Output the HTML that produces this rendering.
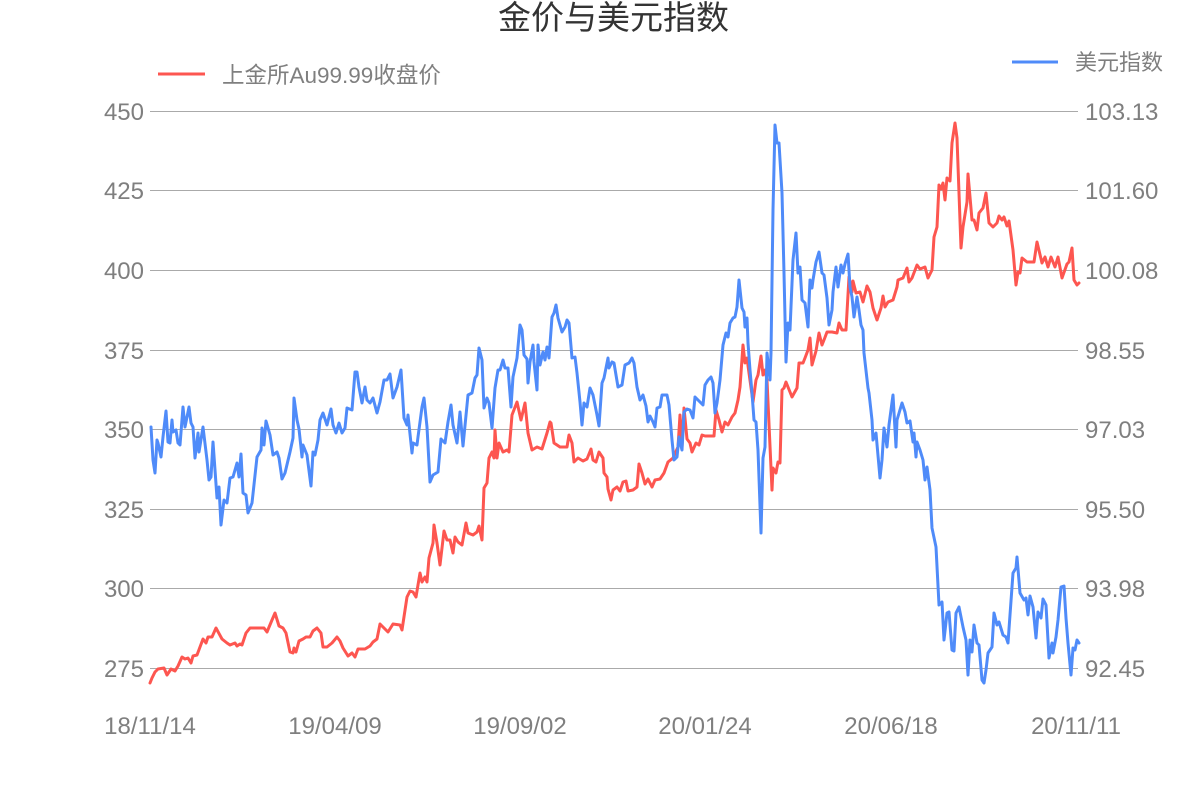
<!DOCTYPE html>
<html>
<head>
<meta charset="utf-8">
<style>
html,body{margin:0;padding:0;background:#fff;}
svg{display:block;}
text{font-family:"Liberation Sans","Noto Sans CJK SC",sans-serif;}
</style>
</head>
<body>
<svg width="1200" height="800" viewBox="0 0 1200 800" xmlns="http://www.w3.org/2000/svg">
<rect width="1200" height="800" fill="#fff"/>
<text x="498" y="29" font-size="33" fill="#333">金价与美元指数</text>

<line x1="158" y1="74" x2="205" y2="74" stroke="#fd5650" stroke-width="3"/>
<text x="222" y="83" font-size="22.5" fill="#7f7f7f">上金所Au99.99收盘价</text>
<line x1="1012" y1="62" x2="1058" y2="62" stroke="#4f8bf9" stroke-width="3"/>
<text x="1075" y="70" font-size="22" fill="#7f7f7f">美元指数</text>

<g stroke="#aaaaaa" stroke-width="1">
<line x1="150" y1="111.5" x2="1078" y2="111.5"/>
<line x1="150" y1="190.5" x2="1078" y2="190.5"/>
<line x1="150" y1="270.5" x2="1078" y2="270.5"/>
<line x1="150" y1="350.5" x2="1078" y2="350.5"/>
<line x1="150" y1="429.5" x2="1078" y2="429.5"/>
<line x1="150" y1="509.5" x2="1078" y2="509.5"/>
<line x1="150" y1="588.5" x2="1078" y2="588.5"/>
<line x1="150" y1="668.5" x2="1078" y2="668.5"/>
</g>

<g font-size="24" fill="#7f7f7f" text-anchor="end">
<text x="144" y="120">450</text>
<text x="144" y="199">425</text>
<text x="144" y="279">400</text>
<text x="144" y="359">375</text>
<text x="144" y="438">350</text>
<text x="144" y="518">325</text>
<text x="144" y="597">300</text>
<text x="144" y="677">275</text>
</g>
<g font-size="24" fill="#7f7f7f" text-anchor="start">
<text x="1085" y="120">103.13</text>
<text x="1085" y="199">101.60</text>
<text x="1085" y="279">100.08</text>
<text x="1085" y="359">98.55</text>
<text x="1085" y="438">97.03</text>
<text x="1085" y="518">95.50</text>
<text x="1085" y="597">93.98</text>
<text x="1085" y="677">92.45</text>
</g>
<g font-size="24" fill="#7f7f7f" text-anchor="middle">
<text x="150" y="734">18/11/14</text>
<text x="335" y="734">19/04/09</text>
<text x="520" y="734">19/09/02</text>
<text x="705" y="734">20/01/24</text>
<text x="891" y="734">20/06/18</text>
<text x="1076" y="734">20/11/11</text>
</g>

<polyline fill="none" stroke="#fd5650" stroke-width="3" stroke-linejoin="round" stroke-linecap="round" points="150,683 152,678 155,672 158,669 164,668 167,675 171,669 175,671 178,666 182,657 185,659 188,658 191,663 193,656 197,655 200,647 203,639 206,643 208,637 212,637 216,628 222,639 227,643 230,645 235,643 237,646 240,644 242,645 246,633 250,628 255,628 264,628 267,632 272,620 275,613 279,626 283,628 286,633 290,652 293,653 294,648 296,652 299,641 303,639 306,637 310,637 313,631 317,628 321,633 323,647 327,647 332,643 337,637 340,641 343,648 348,656 352,653 355,657 358,649 365,649 370,646 373,642 377,639 380,624 383,627 388,632 393,624 400,625 402,630 407,597 410,591 413,592 416,597 420,573 422,582 425,577 427,582 429,558 433,543 434,525 437,543 440,565 444,531 447,540 450,540 453,553 455,537 458,542 462,545 466,523 468,533 473,535 477,532 479,526 482,540 484,488 487,483 489,458 492,452 494,458 495,430 497,458 499,443 503,452 507,450 509,452 512,415 517,402 521,420 525,403 528,433 532,450 537,447 542,449 547,433 550,422 551,423 554,443 560,447 567,447 569,435 572,443 574,462 578,458 583,461 587,459 591,449 593,460 596,462 599,452 603,458 604,473 607,477 608,489 611,500 613,490 617,487 620,491 623,482 626,481 628,491 633,490 637,487 639,464 642,473 645,484 648,479 652,487 655,480 660,479 664,473 668,462 673,458 678,447 680,415 682,447 684,408 687,439 690,443 692,452 696,443 699,445 702,435 705,436 714,436 716,410 719,420 722,432 725,422 728,425 732,417 735,413 738,400 740,387 743,345 745,363 747,358 749,373 753,402 756,380 758,375 761,356 763,375 765,370 767,380 772,490 773,468 776,473 778,462 780,463 782,390 784,388 786,382 788,387 792,397 797,388 799,363 803,363 805,358 808,350 810,338 812,365 816,351 819,333 822,345 824,340 827,332 832,332 837,333 839,323 842,330 846,330 849,277 852,292 853,281 856,293 860,292 863,302 867,286 870,292 873,308 877,320 881,308 883,296 885,307 888,302 893,300 897,287 898,280 903,278 907,268 909,282 912,278 917,265 920,269 925,267 928,278 932,270 934,237 937,227 939,185 941,189 943,183 945,200 947,178 950,181 952,143 955,123 957,138 961,248 963,227 967,202 968,174 972,220 974,220 977,230 979,213 983,208 986,193 989,223 993,227 997,223 999,216 1002,220 1004,217 1007,226 1009,221 1013,250 1016,285 1018,272 1020,273 1022,258 1027,262 1034,262 1037,242 1042,263 1045,257 1048,267 1051,257 1055,267 1058,257 1062,278 1067,264 1069,262 1072,248 1074,280 1077,285 1079,283"/>

<polyline fill="none" stroke="#4f8bf9" stroke-width="3" stroke-linejoin="round" stroke-linecap="round" points="151,427 153,460 155,473 157,440 158,443 161,457 163,437 166,411 168,442 170,443 172,420 173,432 176,430 178,443 180,445 183,407 185,427 189,407 191,423 193,427 195,458 198,433 199,452 203,427 207,460 209,480 211,477 213,442 215,470 217,498 219,487 221,525 224,500 227,503 230,478 233,477 237,463 239,477 241,454 243,493 246,495 248,513 252,503 257,457 261,450 262,428 264,445 266,421 270,435 273,455 277,452 279,458 282,479 285,473 290,452 293,438 294,398 297,420 299,429 302,457 303,445 307,455 308,463 311,486 313,452 315,455 318,440 320,420 323,413 327,425 331,409 333,425 336,433 339,423 342,433 345,428 347,408 352,410 355,372 357,372 359,387 362,403 365,387 367,400 370,403 373,398 377,413 380,402 384,380 387,380 390,374 393,398 397,387 401,370 404,418 407,425 408,415 412,453 413,443 417,445 418,437 422,407 424,398 427,427 430,482 433,475 438,472 441,439 445,443 448,422 451,405 453,425 457,443 460,412 463,446 468,395 472,393 475,378 477,375 479,348 482,360 484,408 487,398 489,403 492,428 495,388 498,370 500,370 503,360 505,368 508,368 511,407 513,377 517,358 520,325 522,330 524,355 527,359 528,383 530,362 533,345 534,362 537,390 538,345 540,365 543,352 545,360 547,347 549,358 552,317 554,313 556,305 558,318 562,332 565,327 567,320 569,323 572,358 575,357 577,373 580,402 582,425 584,403 587,407 590,388 593,395 597,415 599,426 602,383 604,378 608,358 609,368 612,362 614,363 618,387 622,385 625,365 629,363 632,358 634,363 637,387 640,400 643,395 646,406 648,422 650,416 653,422 655,427 657,408 660,407 662,395 667,395 669,405 672,440 674,460 677,457 679,437 682,450 684,412 687,409 690,410 693,418 695,397 698,400 703,405 705,385 708,380 711,377 713,383 715,413 717,403 720,380 723,345 726,333 728,337 730,323 733,318 735,317 737,307 739,280 742,308 744,312 745,327 747,318 748,343 750,370 752,393 754,420 756,422 758,450 761,533 763,458 765,447 767,353 770,380 771,353 773,210 775,125 777,143 779,143 782,193 784,273 786,362 788,323 790,330 793,260 796,233 798,273 800,267 802,300 805,303 808,327 810,280 812,288 813,280 816,262 819,252 822,273 824,275 827,298 829,325 832,310 833,292 836,267 838,287 841,265 843,273 845,264 848,254 850,287 852,297 854,317 857,297 859,310 861,325 863,330 864,353 868,388 869,393 872,420 873,440 876,433 880,478 882,460 884,428 887,447 889,425 893,395 896,447 897,420 902,403 905,412 907,423 910,421 913,442 914,433 916,457 917,442 920,450 923,460 925,480 927,467 930,490 932,528 936,547 939,605 942,602 944,640 947,613 949,612 952,650 954,651 956,613 959,607 963,627 966,640 968,675 970,640 972,652 974,625 977,643 979,645 982,680 984,683 986,670 988,653 992,647 994,613 997,625 999,622 1003,635 1006,637 1008,643 1013,573 1016,568 1017,557 1020,593 1024,600 1026,598 1028,615 1030,596 1033,607 1036,638 1038,612 1041,618 1043,599 1046,605 1049,658 1052,643 1053,653 1056,637 1058,620 1061,587 1064,586 1066,618 1068,643 1071,675 1073,648 1075,650 1077,640 1079,643"/>
</svg>
</body>
</html>
